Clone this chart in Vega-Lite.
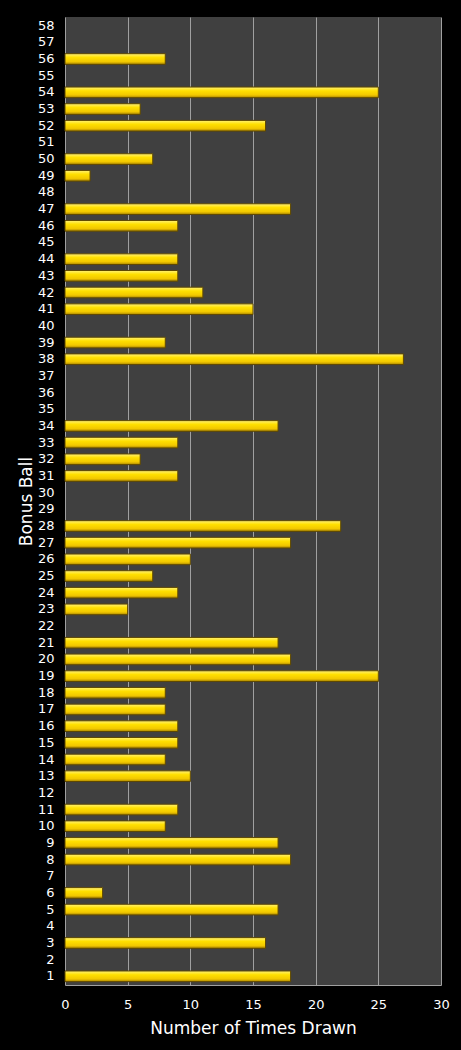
{
  "$schema": "https://vega.github.io/schema/vega-lite/v6.json",
  "width": 376,
  "height": 968,
  "autosize": {"type": "none"},
  "padding": {"left": 65, "top": 17, "right": 20, "bottom": 65},
  "background": "black",
  "data": {
    "values": [
      {"ball": 1, "times": 18}, {"ball": 2, "times": 0}, {"ball": 3, "times": 16},
      {"ball": 4, "times": 0}, {"ball": 5, "times": 17}, {"ball": 6, "times": 3},
      {"ball": 7, "times": 0}, {"ball": 8, "times": 18}, {"ball": 9, "times": 17},
      {"ball": 10, "times": 8}, {"ball": 11, "times": 9}, {"ball": 12, "times": 0},
      {"ball": 13, "times": 10}, {"ball": 14, "times": 8}, {"ball": 15, "times": 9},
      {"ball": 16, "times": 9}, {"ball": 17, "times": 8}, {"ball": 18, "times": 8},
      {"ball": 19, "times": 25}, {"ball": 20, "times": 18}, {"ball": 21, "times": 17},
      {"ball": 22, "times": 0}, {"ball": 23, "times": 5}, {"ball": 24, "times": 9},
      {"ball": 25, "times": 7}, {"ball": 26, "times": 10}, {"ball": 27, "times": 18},
      {"ball": 28, "times": 22}, {"ball": 29, "times": 0}, {"ball": 30, "times": 0},
      {"ball": 31, "times": 9}, {"ball": 32, "times": 6}, {"ball": 33, "times": 9},
      {"ball": 34, "times": 17}, {"ball": 35, "times": 0}, {"ball": 36, "times": 0},
      {"ball": 37, "times": 0}, {"ball": 38, "times": 27}, {"ball": 39, "times": 8},
      {"ball": 40, "times": 0}, {"ball": 41, "times": 15}, {"ball": 42, "times": 11},
      {"ball": 43, "times": 9}, {"ball": 44, "times": 9}, {"ball": 45, "times": 0},
      {"ball": 46, "times": 9}, {"ball": 47, "times": 18}, {"ball": 48, "times": 0},
      {"ball": 49, "times": 2}, {"ball": 50, "times": 7}, {"ball": 51, "times": 0},
      {"ball": 52, "times": 16}, {"ball": 53, "times": 6}, {"ball": 54, "times": 25},
      {"ball": 55, "times": 0}, {"ball": 56, "times": 8}, {"ball": 57, "times": 0},
      {"ball": 58, "times": 0}
    ]
  },
  "transform": [{"filter": "datum.times > 0"}],
  "mark": {
    "type": "bar",
    "color": {
      "gradient": "linear",
      "x1": 0, "y1": 0, "x2": 0, "y2": 1,
      "stops": [
        {"offset": 0, "color": "#fff27a"},
        {"offset": 0.35, "color": "#ffe000"},
        {"offset": 0.75, "color": "#f2c800"},
        {"offset": 1, "color": "#a88400"}
      ]
    },
    "stroke": "#5e4800",
    "strokeWidth": 1
  },
  "encoding": {
    "y": {
      "field": "ball",
      "type": "ordinal",
      "sort": "descending",
      "scale": {
        "domain": [58, 57, 56, 55, 54, 53, 52, 51, 50, 49, 48, 47, 46, 45, 44, 43, 42, 41, 40, 39, 38, 37, 36, 35, 34, 33, 32, 31, 30, 29, 28, 27, 26, 25, 24, 23, 22, 21, 20, 19, 18, 17, 16, 15, 14, 13, 12, 11, 10, 9, 8, 7, 6, 5, 4, 3, 2, 1],
        "paddingInner": 0.36,
        "paddingOuter": 0.2
      },
      "axis": {
        "title": "Bonus Ball",
        "titleColor": "white",
        "titleFont": "DejaVu Sans",
        "titleFontSize": 17,
        "titleFontWeight": "normal",
        "titlePadding": 2,
        "labelColor": "white",
        "labelFont": "DejaVu Sans",
        "labelFontSize": 13,
        "labelPadding": 11,
        "ticks": false,
        "domain": false
      }
    },
    "x": {
      "field": "times",
      "type": "quantitative",
      "scale": {"domain": [0, 30], "nice": false},
      "axis": {
        "title": "Number of Times Drawn",
        "values": [0, 5, 10, 15, 20, 25, 30],
        "labelFlush": false,
        "titleColor": "white",
        "titleFont": "DejaVu Sans",
        "titleFontSize": 17,
        "titleFontWeight": "normal",
        "titlePadding": 9,
        "labelColor": "white",
        "labelFont": "DejaVu Sans",
        "labelFontSize": 13,
        "labelPadding": 13,
        "ticks": false,
        "domainColor": "#a0a0a0",
        "grid": true,
        "gridColor": "#a0a0a0",
        "gridOpacity": 1
      }
    }
  },
  "config": {
    "view": {"fill": "#404040", "stroke": null}
  }
}
